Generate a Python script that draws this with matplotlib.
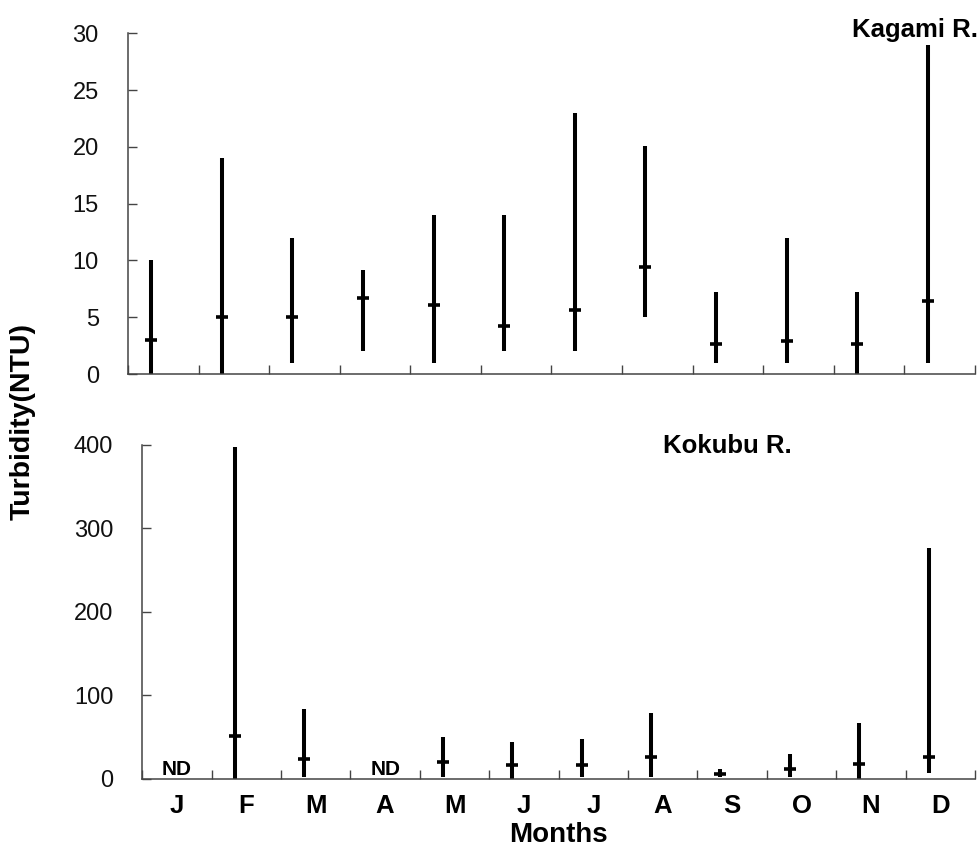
import matplotlib
matplotlib.use("Agg")
import matplotlib.pyplot as plt
import numpy as np

plt.rcParams['font.family'] = ['Liberation Sans', 'DejaVu Sans']

months = ['J', 'F', 'M', 'A', 'M', 'J', 'J', 'A', 'S', 'O', 'N', 'D']

# Kagami R. (NTU): min, median, max per month
kagami_min = [0, 0, 1, 2, 1, 2, 2, 5, 1, 1, 0, 1]
kagami_med = [3.0, 5.0, 5.0, 6.7, 6.1, 4.2, 5.6, 9.4, 2.6, 2.9, 2.6, 6.4]
kagami_max = [10, 19, 12, 9.2, 14, 14, 23, 20.1, 7.2, 12, 7.2, 29]

# Kokubu R. (NTU): None = no data (ND)
kokubu_min = [None, 0, 2.4, None, 2.4, 0, 2.4, 2.4, 2.4, 2.4, 0, 6.8]
kokubu_med = [None, 51, 24, None, 20, 16, 16, 26, 5.6, 12, 18, 26]
kokubu_max = [None, 398, 83, None, 50, 44, 48, 79, 12, 29, 67, 277]

top_ticks = [0, 5, 10, 15, 20, 25, 30]
bot_ticks = [0, 100, 200, 300, 400]

fig = plt.figure(figsize=(9.8, 8.51), dpi=100)
ax1 = fig.add_axes([0.1306, 0.5605, 0.8643, 0.4004])
ax2 = fig.add_axes([0.1452, 0.0850, 0.8497, 0.3921])

spine_col = '#444444'
offset = -0.17


def style(ax, yticks):
    for s in ['top', 'right']:
        ax.spines[s].set_visible(False)
    for s in ['left', 'bottom']:
        ax.spines[s].set_color(spine_col)
        ax.spines[s].set_linewidth(1.1)
    ax.set_xlim(0, 12)
    ax.set_ylim(yticks[0], yticks[-1])
    ax.set_yticks(yticks)
    ax.set_xticks(np.arange(0, 13))
    ax.set_xticklabels([])
    ax.tick_params(axis='both', which='major', direction='in', length=6.5,
                   width=1.0, color=spine_col)
    ax.tick_params(axis='y', pad=21, labelsize=17, labelcolor='#111111')


style(ax1, top_ticks)
style(ax2, bot_ticks)

centers = np.arange(12) + 0.5

# Kagami
for i in range(12):
    x = centers[i] + offset
    ax1.vlines(x, kagami_min[i], kagami_max[i], colors='black', lw=2.9,
               clip_on=False)
    ax1.plot([x], [kagami_med[i]], marker='_', ms=8.6, mew=2.6, color='black',
             clip_on=False)

# Kokubu
for i in range(12):
    if kokubu_med[i] is None:
        ax2.text(centers[i], 4, 'ND', ha='center', va='baseline',
                 fontsize=15, fontweight='bold')
        continue
    x = centers[i] + offset
    ax2.vlines(x, kokubu_min[i], kokubu_max[i], colors='black', lw=2.9,
               clip_on=False)
    ax2.plot([x], [kokubu_med[i]], marker='_', ms=8.6, mew=2.6, color='black',
             clip_on=False)

ax2.set_xticks(centers, minor=True)
ax2.set_xticklabels(months, minor=True, fontsize=18.5, fontweight='bold')
ax2.tick_params(axis='x', which='minor', length=0, pad=11)

ax2.set_xlabel('Months', fontsize=20, fontweight='bold', labelpad=3)

fig.text(0.998, 1 - 36.5 / 851, 'Kagami R.', ha='right', va='baseline',
         fontsize=18.5, fontweight='bold')
ax2.text(0.703, 0.976, 'Kokubu R.', transform=ax2.transAxes, ha='center',
         va='baseline', fontsize=18.5, fontweight='bold')
fig.text(23 / 980, 1 - 421 / 851, 'Turbidity(NTU)', rotation=90,
         ha='center', va='center', fontsize=20.5, fontweight='bold')

fig.savefig('out.png', dpi=100)
